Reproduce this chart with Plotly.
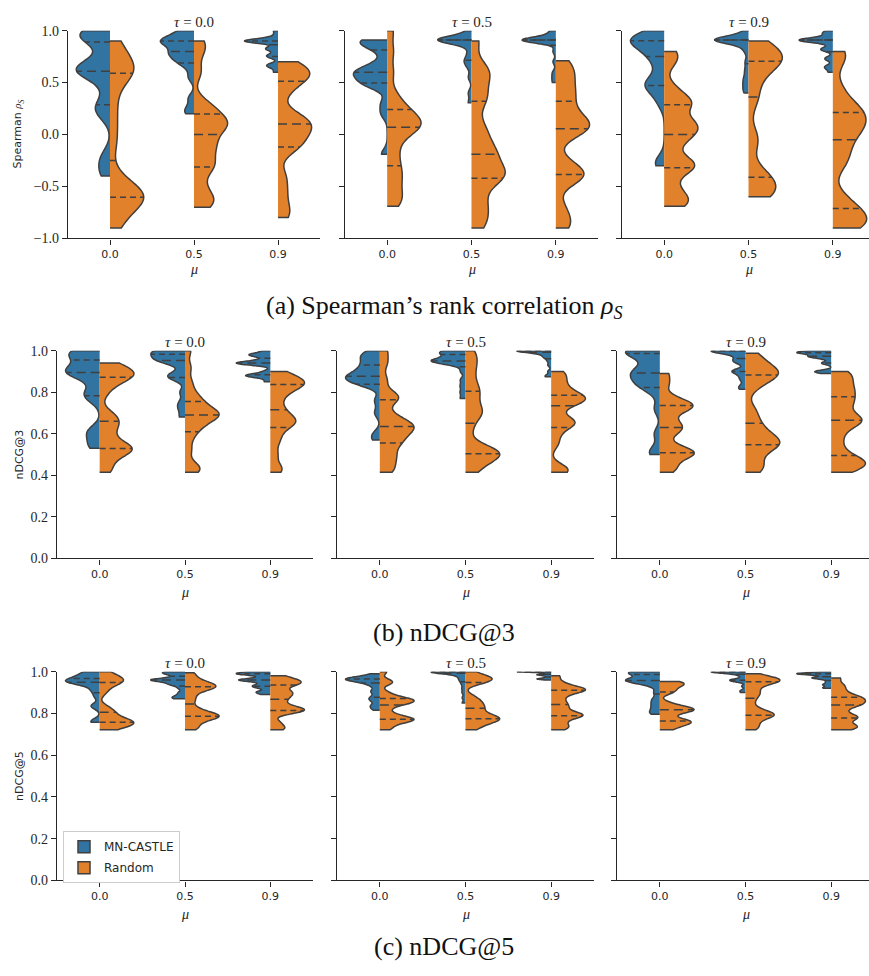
import numpy as np
import plotly.graph_objects as go

# ---------------- data ----------------
MU_LABELS = ["0.0", "0.5", "0.9"]
TAU_LABELS = ["0.0", "0.5", "0.9"]
METHODS = ["MN-CASTLE", "Random"]

# Spearman rank correlation; each entry: samples for mu = 0.0, 0.5, 0.9
SP_CASTLE_T00 = [
    [-0.4, -0.3, -0.2, 0.18, 0.25, 0.3, 0.45, 0.58, 0.6, 0.6, 0.62, 0.65, 0.68, 0.75, 0.88, 0.92, 0.95, 0.98, 1.0, 1.0],
    [0.2, 0.25, 0.35, 0.55, 0.65, 0.7, 0.72, 0.75, 0.78, 0.8, 0.8, 0.85, 0.88, 0.9, 0.9, 0.9, 0.92, 0.95, 1.0, 1.0],
    [0.6, 0.65, 0.67, 0.67, 0.75, 0.75, 0.77, 0.82, 0.83, 0.83, 0.9, 0.9, 0.9, 0.9, 0.9, 0.9, 0.9, 0.9, 0.95, 1.0],
]
SP_RANDOM_T00 = [
    [-0.9, -0.8, -0.7, -0.65, -0.62, -0.6, -0.58, -0.55, -0.5, -0.4, -0.1, 0.1, 0.3, 0.5, 0.58, 0.62, 0.65, 0.7, 0.8, 0.9],
    [-0.7, -0.65, -0.6, -0.5, -0.35, -0.3, -0.25, -0.15, -0.1, -0.05, 0.05, 0.08, 0.1, 0.13, 0.18, 0.25, 0.3, 0.6, 0.8, 0.9],
    [-0.8, -0.7, -0.55, -0.4, -0.15, -0.11, -0.05, 0.0, 0.05, 0.08, 0.12, 0.15, 0.2, 0.4, 0.5, 0.55, 0.58, 0.6, 0.65, 0.7],
]
SP_CASTLE_T05 = [
    [-0.19, 0.2, 0.3, 0.45, 0.48, 0.5, 0.52, 0.55, 0.58, 0.6, 0.6, 0.62, 0.65, 0.7, 0.8, 0.85, 0.88, 0.9, 0.91, 0.91],
    [0.305, 0.4, 0.55, 0.65, 0.7, 0.72, 0.78, 0.85, 0.91, 0.91, 0.91, 0.91, 0.91, 0.91, 0.91, 0.91, 0.91, 0.91, 0.95, 1.0],
    [0.5, 0.55, 0.6, 0.7, 0.8, 0.88, 0.9, 0.91, 0.91, 0.91, 0.91, 0.91, 0.91, 0.91, 0.91, 0.91, 0.92, 0.95, 0.98, 1.0],
]
SP_RANDOM_T05 = [
    [-0.69, -0.62, -0.55, -0.45, -0.38, -0.3, -0.2, -0.1, 0.0, 0.04, 0.07, 0.1, 0.12, 0.15, 0.2, 0.24, 0.3, 0.4, 0.6, 0.8, 1.0],
    [-0.9, -0.8, -0.7, -0.6, -0.45, -0.41, -0.4, -0.35, -0.3, -0.2, -0.18, -0.1, 0.0, 0.1, 0.3, 0.38, 0.5, 0.6, 0.65, 0.9],
    [-0.9, -0.83, -0.7, -0.45, -0.4, -0.38, -0.35, -0.25, 0.0, 0.04, 0.07, 0.1, 0.15, 0.2, 0.3, 0.38, 0.45, 0.55, 0.62, 0.71],
]
SP_CASTLE_T09 = [
    [-0.3, -0.25, 0.3, 0.4, 0.45, 0.48, 0.5, 0.55, 0.65, 0.72, 0.78, 0.8, 0.85, 0.88, 0.9, 0.91, 0.92, 0.93, 0.97, 1.0],
    [0.4, 0.45, 0.5, 0.55, 0.62, 0.7, 0.8, 0.85, 0.91, 0.91, 0.91, 0.91, 0.91, 0.91, 0.91, 0.91, 0.91, 0.91, 0.95, 1.0],
    [0.6, 0.65, 0.65, 0.73, 0.73, 0.82, 0.82, 0.82, 0.88, 0.91, 0.91, 0.91, 0.91, 0.91, 0.91, 0.91, 0.91, 0.97, 0.97, 1.0],
]
SP_RANDOM_T09 = [
    [-0.69, -0.65, -0.6, -0.5, -0.35, -0.31, -0.28, -0.25, -0.1, -0.02, 0.02, 0.08, 0.1, 0.15, 0.28, 0.31, 0.33, 0.45, 0.7, 0.8],
    [-0.6, -0.58, -0.55, -0.5, -0.45, -0.4, -0.35, -0.1, 0.0, 0.3, 0.42, 0.55, 0.65, 0.7, 0.7, 0.72, 0.78, 0.8, 0.85, 0.9],
    [-0.9, -0.88, -0.85, -0.8, -0.75, -0.7, -0.6, -0.3, -0.2, -0.1, 0.0, 0.05, 0.1, 0.15, 0.2, 0.25, 0.3, 0.45, 0.72, 0.8],
]

# nDCG@3
N3_CASTLE_T00 = [
    [0.53, 0.56, 0.6, 0.62, 0.76, 0.79, 0.8, 0.85, 0.88, 0.89, 0.9, 0.9, 0.91, 0.93, 0.95, 0.97, 0.98, 1.0, 1.0, 1.0],
    [0.68, 0.72, 0.75, 0.8, 0.86, 0.875, 0.88, 0.89, 0.93, 0.95, 0.955, 0.955, 0.96, 0.97, 0.98, 0.99, 1.0, 1.0, 1.0, 1.0],
    [0.85, 0.87, 0.88, 0.88, 0.88, 0.885, 0.9, 0.93, 0.94, 0.94, 0.94, 0.94, 0.94, 0.95, 0.96, 0.975, 0.98, 0.98, 0.985, 1.0],
]
N3_RANDOM_T00 = [
    [0.415, 0.45, 0.5, 0.52, 0.525, 0.53, 0.54, 0.58, 0.62, 0.65, 0.67, 0.7, 0.8, 0.85, 0.87, 0.88, 0.89, 0.9, 0.92, 0.94],
    [0.415, 0.43, 0.45, 0.52, 0.58, 0.62, 0.64, 0.66, 0.68, 0.685, 0.695, 0.7, 0.71, 0.73, 0.75, 0.77, 0.8, 0.85, 0.92, 1.0],
    [0.415, 0.44, 0.5, 0.56, 0.6, 0.64, 0.65, 0.66, 0.68, 0.7, 0.73, 0.77, 0.8, 0.82, 0.835, 0.845, 0.85, 0.86, 0.88, 0.9],
]
N3_CASTLE_T05 = [
    [0.57, 0.6, 0.7, 0.76, 0.835, 0.84, 0.845, 0.86, 0.87, 0.875, 0.878, 0.88, 0.9, 0.91, 0.93, 0.935, 0.96, 0.975, 0.98, 1.0],
    [0.77, 0.8, 0.83, 0.86, 0.9, 0.93, 0.94, 0.945, 0.95, 0.95, 0.95, 0.955, 0.96, 0.97, 0.98, 0.985, 0.99, 1.0, 1.0, 1.0],
    [0.874, 0.88, 0.9, 0.93, 0.95, 0.965, 0.97, 0.98, 0.985, 0.99, 0.995, 1.0, 1.0, 1.0, 1.0, 1.0, 1.0, 1.0, 1.0, 1.0],
]
N3_RANDOM_T05 = [
    [0.415, 0.44, 0.48, 0.5, 0.54, 0.56, 0.58, 0.6, 0.62, 0.63, 0.64, 0.65, 0.67, 0.7, 0.76, 0.775, 0.79, 0.86, 0.94, 1.0],
    [0.415, 0.44, 0.47, 0.49, 0.5, 0.505, 0.51, 0.52, 0.54, 0.62, 0.68, 0.7, 0.72, 0.76, 0.8, 0.82, 0.87, 0.92, 0.96, 1.0],
    [0.415, 0.42, 0.44, 0.55, 0.6, 0.64, 0.65, 0.66, 0.67, 0.72, 0.75, 0.76, 0.765, 0.77, 0.78, 0.8, 0.82, 0.85, 0.88, 0.9],
]
N3_CASTLE_T09 = [
    [0.5, 0.52, 0.6, 0.72, 0.8, 0.83, 0.84, 0.85, 0.87, 0.89, 0.895, 0.9, 0.92, 0.95, 0.985, 0.99, 1.0, 1.0, 1.0, 1.0],
    [0.814, 0.83, 0.86, 0.88, 0.9, 0.9, 0.905, 0.94, 0.95, 0.955, 0.97, 0.98, 0.99, 1.0, 1.0, 1.0, 1.0, 1.0, 1.0, 1.0],
    [0.89, 0.9, 0.9, 0.9, 0.94, 0.94, 0.96, 0.97, 0.97, 0.97, 0.975, 0.98, 0.99, 0.99, 0.99, 0.99, 0.99, 0.995, 1.0, 1.0],
]
N3_RANDOM_T09 = [
    [0.415, 0.44, 0.47, 0.5, 0.505, 0.51, 0.52, 0.55, 0.6, 0.62, 0.64, 0.66, 0.7, 0.72, 0.735, 0.74, 0.75, 0.78, 0.84, 0.89],
    [0.415, 0.44, 0.47, 0.52, 0.54, 0.55, 0.56, 0.58, 0.6, 0.63, 0.67, 0.72, 0.82, 0.86, 0.88, 0.89, 0.9, 0.92, 0.95, 0.987],
    [0.415, 0.44, 0.45, 0.46, 0.48, 0.5, 0.55, 0.6, 0.64, 0.66, 0.67, 0.68, 0.72, 0.75, 0.77, 0.8, 0.82, 0.85, 0.88, 0.9],
]

# nDCG@5
N5_CASTLE_T00 = [
    [0.757, 0.765, 0.83, 0.84, 0.88, 0.905, 0.92, 0.94, 0.945, 0.948, 0.95, 0.955, 0.96, 0.962, 0.965, 0.975, 0.98, 0.99, 1.0, 1.0],
    [0.87, 0.875, 0.885, 0.9, 0.92, 0.935, 0.94, 0.945, 0.955, 0.96, 0.96, 0.96, 0.96, 0.965, 0.975, 0.985, 0.99, 0.995, 1.0, 1.0],
    [0.89, 0.9, 0.905, 0.92, 0.93, 0.93, 0.94, 0.95, 0.96, 0.96, 0.96, 0.96, 0.97, 0.98, 0.99, 0.99, 0.99, 0.99, 1.0, 1.0],
]
N5_RANDOM_T00 = [
    [0.722, 0.73, 0.74, 0.75, 0.755, 0.758, 0.76, 0.77, 0.78, 0.8, 0.81, 0.83, 0.9, 0.93, 0.945, 0.955, 0.96, 0.97, 0.98, 1.0],
    [0.722, 0.74, 0.76, 0.775, 0.78, 0.788, 0.79, 0.8, 0.81, 0.83, 0.86, 0.885, 0.91, 0.92, 0.925, 0.935, 0.94, 0.95, 0.97, 0.995],
    [0.722, 0.735, 0.76, 0.8, 0.81, 0.815, 0.82, 0.825, 0.84, 0.86, 0.875, 0.89, 0.9, 0.91, 0.935, 0.94, 0.95, 0.955, 0.965, 0.98],
]
N5_CASTLE_T05 = [
    [0.815, 0.83, 0.84, 0.86, 0.87, 0.88, 0.9, 0.91, 0.93, 0.94, 0.95, 0.955, 0.96, 0.963, 0.965, 0.965, 0.967, 0.97, 0.98, 0.99],
    [0.85, 0.875, 0.9, 0.92, 0.94, 0.955, 0.965, 0.975, 0.985, 0.99, 0.995, 1.0, 1.0, 1.0, 1.0, 1.0, 1.0, 1.0, 1.0, 1.0],
    [0.96, 0.965, 0.965, 0.965, 0.97, 0.975, 0.98, 0.985, 0.985, 0.985, 0.99, 0.995, 1.0, 1.0, 1.0, 1.0, 1.0, 1.0, 1.0, 1.0],
]
N5_RANDOM_T05 = [
    [0.722, 0.74, 0.76, 0.765, 0.77, 0.772, 0.78, 0.79, 0.81, 0.835, 0.845, 0.855, 0.86, 0.862, 0.87, 0.877, 0.9, 0.945, 0.955, 1.0],
    [0.722, 0.74, 0.755, 0.765, 0.77, 0.775, 0.78, 0.79, 0.8, 0.82, 0.83, 0.845, 0.86, 0.88, 0.945, 0.955, 0.965, 0.97, 0.975, 1.0],
    [0.722, 0.735, 0.75, 0.77, 0.785, 0.79, 0.795, 0.8, 0.82, 0.835, 0.85, 0.87, 0.89, 0.905, 0.91, 0.915, 0.92, 0.93, 0.95, 0.98],
]
N5_CASTLE_T09 = [
    [0.796, 0.81, 0.83, 0.85, 0.87, 0.9, 0.93, 0.945, 0.95, 0.955, 0.96, 0.96, 0.962, 0.97, 0.985, 0.99, 0.995, 1.0, 1.0, 1.0],
    [0.9, 0.91, 0.93, 0.95, 0.955, 0.96, 0.96, 0.962, 0.975, 0.985, 0.99, 0.993, 1.0, 1.0, 1.0, 1.0, 1.0, 1.0, 1.0, 1.0],
    [0.92, 0.925, 0.935, 0.94, 0.95, 0.96, 0.968, 0.97, 0.97, 0.972, 0.98, 0.985, 0.988, 0.99, 0.99, 0.99, 0.99, 0.992, 0.995, 1.0],
]
N5_RANDOM_T09 = [
    [0.722, 0.735, 0.75, 0.755, 0.76, 0.765, 0.775, 0.8, 0.81, 0.815, 0.82, 0.825, 0.83, 0.85, 0.9, 0.91, 0.93, 0.94, 0.945, 0.953],
    [0.722, 0.74, 0.76, 0.78, 0.79, 0.792, 0.8, 0.81, 0.83, 0.86, 0.885, 0.9, 0.92, 0.94, 0.95, 0.958, 0.96, 0.965, 0.97, 0.99],
    [0.722, 0.73, 0.74, 0.75, 0.77, 0.78, 0.785, 0.8, 0.82, 0.835, 0.845, 0.85, 0.86, 0.87, 0.875, 0.885, 0.9, 0.92, 0.94, 0.97],
]

SP_YTICKS = [-1.0, -0.5, 0.0, 0.5, 1.0]
SP_YTICK_TEXT = ["\u22121.0", "\u22120.5", "0.0", "0.5", "1.0"]
ND_YTICKS = [0.0, 0.2, 0.4, 0.6, 0.8, 1.0]
ND_YTICK_TEXT = ["0.0", "0.2", "0.4", "0.6", "0.8", "1.0"]

# ---------------- styling / layout ----------------
W, H = 869, 976
BLUE = "#3274a1"
ORANGE = "#e1812c"
EDGE = "#3f3f3f"
AX = "#262626"
BW_FACTOR = 0.2
HALF = 0.4
SERIF = "Liberation Serif"
SANS = "DejaVu Sans"

ROWS = [
    dict(data=[(SP_CASTLE_T00, SP_RANDOM_T00), (SP_CASTLE_T05, SP_RANDOM_T05), (SP_CASTLE_T09, SP_RANDOM_T09)],
         yrange=[-1, 1], yt=SP_YTICKS, ytt=SP_YTICK_TEXT,
         ylabel="Spearman <span style='font-family:Liberation Serif'><i>ρ</i><sub><i>S</i></sub></span>",
         caption="(a) Spearman’s rank correlation <i>ρ</i><sub><i>S</i></sub>",
         top=24, bot=235, xdom=[(68, 320), (345, 598), (622, 875)],
         title_y=15, mu_y=267, cap_y=305, ylab_x=18),
    dict(data=[(N3_CASTLE_T00, N3_RANDOM_T00), (N3_CASTLE_T05, N3_RANDOM_T05), (N3_CASTLE_T09, N3_RANDOM_T09)],
         yrange=[0, 1], yt=ND_YTICKS, ytt=ND_YTICK_TEXT, ylabel="nDCG@3", caption="(b) nDCG@3",
         top=349, bot=560, xdom=[(57, 313), (337, 594), (617, 874)],
         title_y=340, mu_y=595, cap_y=635, ylab_x=20),
    dict(data=[(N5_CASTLE_T00, N5_RANDOM_T00), (N5_CASTLE_T05, N5_RANDOM_T05), (N5_CASTLE_T09, N5_RANDOM_T09)],
         yrange=[0, 1], yt=ND_YTICKS, ytt=ND_YTICK_TEXT, ylabel="nDCG@5", caption="(c) nDCG@5",
         top=675, bot=887, xdom=[(57, 313), (337, 594), (617, 874)],
         title_y=666, mu_y=922, cap_y=954, ylab_x=20),
]


def kde(vals, bw, pts):
    v = np.asarray(vals, float)
    p = np.asarray(pts, float)
    return np.exp(-0.5 * ((p[:, None] - v[None, :]) / bw) ** 2).sum(axis=1)


fig = go.Figure()
layout = {}
annotations = []
k = 0
for r, row in enumerate(ROWS):
    for c in range(3):
        k += 1
        sfx = "" if k == 1 else str(k)
        xname, yname = "x" + sfx, "y" + sfx
        x0, x1 = row["xdom"][c]
        spacing = (x1 - x0) / 3.0
        xr1 = 2.5
        if x1 > W:
            xr1 = 2.5 - (x1 - W) / spacing
            x1 = W
        layout["xaxis" + sfx] = dict(
            domain=[x0 / W, x1 / W], range=[-0.5, xr1], anchor=yname,
            tickmode="array", tickvals=[0, 1, 2], ticktext=MU_LABELS,
            ticks="outside", ticklen=5, tickwidth=1.3, tickcolor=AX,
            showline=True, linecolor=AX, linewidth=1.3,
            showgrid=False, zeroline=False,
            tickfont=dict(family=SANS, size=11, color=AX),
        )
        layout["yaxis" + sfx] = dict(
            domain=[1 - row["bot"] / H, 1 - row["top"] / H], range=row["yrange"], anchor=xname,
            tickmode="array", tickvals=row["yt"], ticktext=row["ytt"],
            showticklabels=(c == 0),
            ticks="outside", ticklen=5, tickwidth=1.3, tickcolor=AX,
            showline=True, linecolor=AX, linewidth=1.3,
            showgrid=False, zeroline=False,
            tickfont=dict(family=SERIF, size=14, color=AX),
        )
        cx = (row["xdom"][c][0] + row["xdom"][c][1]) / 2.0
        annotations.append(dict(text=f"<i>τ</i> = {TAU_LABELS[c]}", x=cx / W, y=1 - row["title_y"] / H,
                                xref="paper", yref="paper", showarrow=False, xanchor="center", yanchor="middle",
                                font=dict(family=SERIF, size=15, color=AX)))
        annotations.append(dict(text="<i>μ</i>", x=cx / W, y=1 - row["mu_y"] / H,
                                xref="paper", yref="paper", showarrow=False, xanchor="center", yanchor="middle",
                                font=dict(family=SERIF, size=14, color=AX)))

        castle, random = row["data"][c]
        qx, qy, mx, my = [], [], [], []
        for i in range(3):
            for vals, side, color, name in ((castle[i], "negative", BLUE, METHODS[0]),
                                            (random[i], "positive", ORANGE, METHODS[1])):
                vals = list(vals)
                bw = BW_FACTOR * float(np.std(vals))
                fig.add_trace(go.Violin(
                    x=[i] * len(vals), y=vals, side=side, width=2 * HALF,
                    fillcolor=color, line=dict(color=EDGE, width=1.5), opacity=1,
                    spanmode="hard", bandwidth=bw, scalemode="width", points=False,
                    box_visible=False, meanline_visible=False,
                    name=name, legendgroup=name, showlegend=(k == 7 and i == 0),
                    hoverinfo="skip", xaxis=xname, yaxis=yname,
                ))
                grid = np.linspace(min(vals), max(vals), 600)
                dmax = kde(vals, bw, grid).max()
                sign = -1 if side == "negative" else 1
                q25, q50, q75 = np.percentile(vals, [25, 50, 75])
                for q, tx, ty in ((q25, qx, qy), (q75, qx, qy), (q50, mx, my)):
                    hw = HALF * kde(vals, bw, [q])[0] / dmax
                    tx += [i, i + sign * hw, None]
                    ty += [q, q, None]
        fig.add_trace(go.Scatter(x=qx, y=qy, mode="lines", line=dict(color=EDGE, width=1.5, dash="6px,4px"),
                                 showlegend=False, hoverinfo="skip", xaxis=xname, yaxis=yname))
        fig.add_trace(go.Scatter(x=mx, y=my, mode="lines", line=dict(color=EDGE, width=1.5, dash="9px,5px"),
                                 showlegend=False, hoverinfo="skip", xaxis=xname, yaxis=yname))

    annotations.append(dict(text=row["ylabel"], x=row["ylab_x"] / W, y=1 - (row["top"] + row["bot"]) / 2 / H,
                            xref="paper", yref="paper", showarrow=False, textangle=-90,
                            xanchor="center", yanchor="middle",
                            font=dict(family=SANS, size=11, color=AX)))
    annotations.append(dict(text=row["caption"], x=444 / W, y=1 - row["cap_y"] / H,
                            xref="paper", yref="paper", showarrow=False, xanchor="center", yanchor="middle",
                            font=dict(family=SERIF, size=26, color="#111111")))

fig.update_layout(
    width=W, height=H, margin=dict(l=0, r=0, t=0, b=0),
    paper_bgcolor="white", plot_bgcolor="white",
    violinmode="overlay", violingap=0, violingroupgap=0,
    annotations=annotations,
    legend=dict(x=63 / W, y=1 - 837 / H, xanchor="left", yanchor="top",
                bgcolor="white", bordercolor="#cccccc", borderwidth=1,
                font=dict(family=SANS, size=12, color=AX), tracegroupgap=2),
    **layout,
)
fig.write_html("out.html")
